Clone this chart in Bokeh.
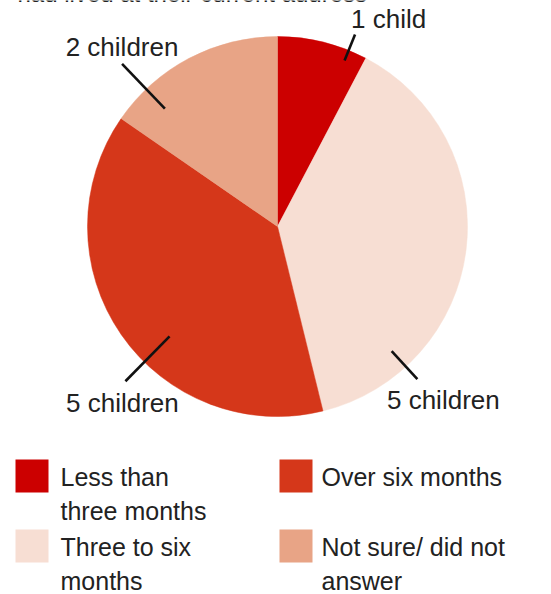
import math
from bokeh.plotting import figure
from bokeh.models import Range1d
from bokeh.core.properties import value
from bokeh.embed import file_html
from bokeh.resources import INLINE

# ---------------- data ----------------
subtitle = "had lived at their current address"
categories = ["Less than three months", "Three to six months",
              "Over six months", "Not sure/ did not answer"]
legend_lines = [["Less than", "three months"], ["Three to six", "months"],
                ["Over six months"], ["Not sure/ did not", "answer"]]
counts = [1, 5, 5, 2]
slice_labels = ["1 child", "5 children", "5 children", "2 children"]
colors = ["#CC0000", "#F7DED3", "#D5371A", "#E8A486"]

# ---------------- layout ----------------
W, H = 551, 594
FONT = "Liberation Sans"
INK = "#222222"
cx, cy_px, R = 277, 226, 190
leader_angle = [22.0, 137.5, 224.5, 316.3]          # degrees clockwise from 12 o'clock
leader_r = [(179, 207), (169, 207), (154, 217), (163, 225)]
label_anchor = [("left", -4, -4), ("center", 26, 32), ("center", -3, 33), ("center", 0, -6)]
leg_col_x = [15, 279]
leg_text_x = [60, 321]
leg_row_top = [459, 529]
SQ = 33
LINE_H = 34
BASE_FIX = 0.43   # em: lift text so its alphabetic baseline lands where intended


def Y(py):
    return H - py


def TY(py, size):
    return H - (py - BASE_FIX * size)


p = figure(width=W, height=H, output_backend="svg", toolbar_location=None,
           x_range=Range1d(0, W), y_range=Range1d(0, H),
           x_axis_type=None, y_axis_type=None, min_border=0,
           outline_line_color=None, background_fill_color="white",
           border_fill_color="white", margin=(0, 0, 0, 0))
p.grid.visible = False

# subtitle (cut off at top, as in the source)
p.text(x=[17], y=[TY(3, 24)], text=[subtitle], text_font=value(FONT),
       text_font_size="24px", text_color=INK, text_baseline="alphabetic")

# pie
total = sum(counts)
starts, ends = [], []
acc = 0.0
for c in counts:
    a0 = acc / total * 2 * math.pi
    acc += c
    a1 = acc / total * 2 * math.pi
    starts.append(math.pi / 2 - a0)
    ends.append(math.pi / 2 - a1)
p.wedge(x=[cx] * len(counts), y=[Y(cy_px)] * len(counts), radius=R,
        start_angle=starts, end_angle=ends, direction="clock",
        fill_color=colors, line_color=colors, line_width=0.5)

# leader lines and labels
for lab, ang, (r0, r1), (al, dx, dy) in zip(slice_labels, leader_angle, leader_r, label_anchor):
    t = math.radians(ang)
    x0 = cx + r0 * math.sin(t)
    y0 = cy_px - r0 * math.cos(t)
    x1 = cx + r1 * math.sin(t)
    y1 = cy_px - r1 * math.cos(t)
    p.line([x0, x1], [Y(y0), Y(y1)], line_color="#111111", line_width=2.6)
    p.text(x=[x1 + dx], y=[TY(y1 + dy, 26)], text=[lab], text_font=value(FONT),
           text_font_size="26px", text_color=INK, text_align=al,
           text_baseline="alphabetic")

# legend (two columns, column-major)
for i, (cat, lines) in enumerate(zip(categories, legend_lines)):
    col, row = divmod(i, 2)
    top = leg_row_top[row]
    p.rect(x=[leg_col_x[col] + SQ / 2], y=[Y(top + SQ / 2)], width=SQ, height=SQ,
           fill_color=colors[i], line_color=None)
    for k, ln in enumerate(lines):
        p.text(x=[leg_text_x[col]], y=[TY(top + 28 + k * LINE_H, 25)], text=[ln],
               text_font=value(FONT), text_font_size="25px", text_color=INK,
               text_baseline="alphabetic")

open("out.html", "w").write(file_html(p, INLINE))
